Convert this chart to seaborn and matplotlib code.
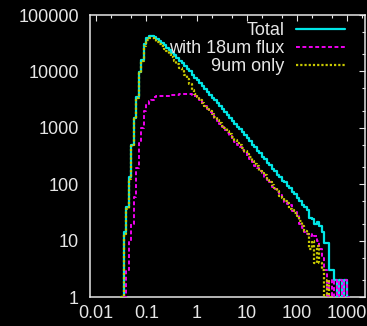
import numpy as np
import pandas as pd
import matplotlib
matplotlib.use("Agg")
import matplotlib.pyplot as plt
import seaborn as sns

# Histogram bins: 0.05 dex wide, centres from 10^-1.525 to 10^3.075
bin_centers = 10 ** np.linspace(-1.525, 3.075, 93)

total = [
    0, 1, 14, 40, 135, 500, 1480, 3550, 9800, 16000,
    30000, 39000, 42500, 42000, 40000, 37500, 34500, 31500, 29000, 26500,
    24000, 21500, 19200, 17300, 15600, 14000, 12500, 11200, 10000, 8500,
    7600, 6980, 6200, 5500, 4890, 4350, 3860, 3430, 3050, 2710,
    2400, 2140, 1900, 1690, 1500, 1330, 1180, 1050, 935, 830,
    740, 650, 578, 505, 452, 395, 355, 305, 278, 240,
    216, 186, 170, 145, 133, 114, 108, 92, 87, 74,
    67, 56, 51, 43, 40, 35, 25, 24, 20, 21,
    18, 14, 9, 9, 3, 3, 2, 1, 2, 1,
    2, 1, 0,
]

with_18um = [
    0, 1, 1, 3, 10, 20, 60, 190, 540, 1000,
    2000, 2600, 2950, 3150, 3450, 3650, 3700, 3700, 3680, 3700,
    3720, 3750, 3800, 3850, 3900, 3950, 4000, 4000, 3950, 3850,
    3700, 3470, 3075, 2725, 2415, 2140, 1900, 1685, 1490, 1325,
    1170, 1040, 920, 817, 725, 643, 570, 505, 448, 397,
    352, 312, 277, 250, 212, 193, 171, 155, 130, 119,
    108, 90, 83, 73, 65, 60, 49, 45, 42, 34,
    32, 28, 20, 17, 14, 13, 12, 13, 12, 10,
    7, 5, 3, 1, 2, 1, 2, 1, 2, 1,
    2, 1, 0,
]

only_9um = [
    0, 1, 13, 37, 125, 480, 1420, 3360, 9250, 15000,
    28000, 36400, 39500, 38800, 36500, 33800, 30800, 27800, 25300, 22800,
    20300, 17700, 15400, 13400, 11700, 10000, 8500, 7200, 6000, 4600,
    3900, 3510, 3125, 2780, 2475, 2205, 1965, 1745, 1555, 1385,
    1235, 1095, 977, 869, 774, 689, 614, 546, 486, 433,
    385, 339, 299, 263, 232, 210, 172, 158, 146, 118,
    108, 95, 84, 77, 62, 58, 51, 47, 37, 35,
    31, 27, 22, 18, 15, 13, 7, 10, 4, 8,
    4, 3, 1, 2, 1, 0, 0, 0, 0, 0,
    0, 0, 0,
]

series_labels = ["Total", "with 18um flux", "9um only"]
x_ticks = [0.01, 0.1, 1, 10, 100, 1000]
x_tick_labels = ["0.01", "0.1", "1", "10", "100", "1000"]
y_ticks = [1, 10, 100, 1000, 10000, 100000]
y_tick_labels = ["1", "10", "100", "1000", "10000", "100000"]

df = pd.DataFrame({
    "x": bin_centers,
    series_labels[0]: total,
    series_labels[1]: with_18um,
    series_labels[2]: only_9um,
})

sns.set_theme(style="dark")
plt.rcParams["font.family"] = ["Liberation Sans", "DejaVu Sans"]
fg = "#e6e6e6"
fsize = 13

fig = plt.figure(figsize=(3.67, 3.26), dpi=100, facecolor="black")
ax = fig.add_axes([90 / 367, 29 / 326, 275 / 367, 282 / 326])
ax.set_facecolor("black")

styles = {
    "Total": dict(color="#00e6e6", linestyle="-", linewidth=1.6),
    "with 18um flux": dict(color="#f000f0", linestyle=(0, (2.0, 1.3)), linewidth=1.4),
    "9um only": dict(color="#c8c800", linestyle=(0, (1.0, 0.9)), linewidth=1.6),
}
for name in series_labels:
    sns.lineplot(data=df, x="x", y=name, ax=ax, drawstyle="steps-mid",
                 label=name, zorder=3, **styles[name])

ax.set_xscale("log")
ax.set_yscale("log")
ax.set_xlim(0.0075, 2300)
ax.set_ylim(1, 100000)

ax.set_xticks(x_ticks, x_tick_labels)
ax.set_yticks(y_ticks, y_tick_labels)
ax.xaxis.set_minor_locator(matplotlib.ticker.LogLocator(base=10, subs=(2, 5), numticks=20))
ax.yaxis.set_minor_locator(matplotlib.ticker.LogLocator(base=10, subs=(2, 5), numticks=20))
ax.xaxis.set_minor_formatter(matplotlib.ticker.NullFormatter())
ax.yaxis.set_minor_formatter(matplotlib.ticker.NullFormatter())
ax.tick_params(which="both", direction="in", top=True, right=True,
               colors=fg, labelcolor=fg, labelsize=fsize, width=0.8)
ax.tick_params(which="major", length=4)
ax.tick_params(which="minor", length=2.2)
ax.tick_params(axis="x", pad=6)
ax.tick_params(axis="y", pad=8)
ax.set_xlabel("")
ax.set_ylabel("")
ax.grid(False)
for sp in ax.spines.values():
    sp.set_visible(True)
    sp.set_color(fg)
    sp.set_linewidth(1.1)

leg = ax.legend(loc="upper right", bbox_to_anchor=(0.927, 0.975), frameon=False,
                markerfirst=False, handlelength=2.7, handletextpad=0.65,
                labelspacing=0.05, borderpad=0, borderaxespad=0, fontsize=fsize)
for t in leg.get_texts():
    t.set_color(fg)

fig.savefig("out.png", dpi=100, facecolor="black")
